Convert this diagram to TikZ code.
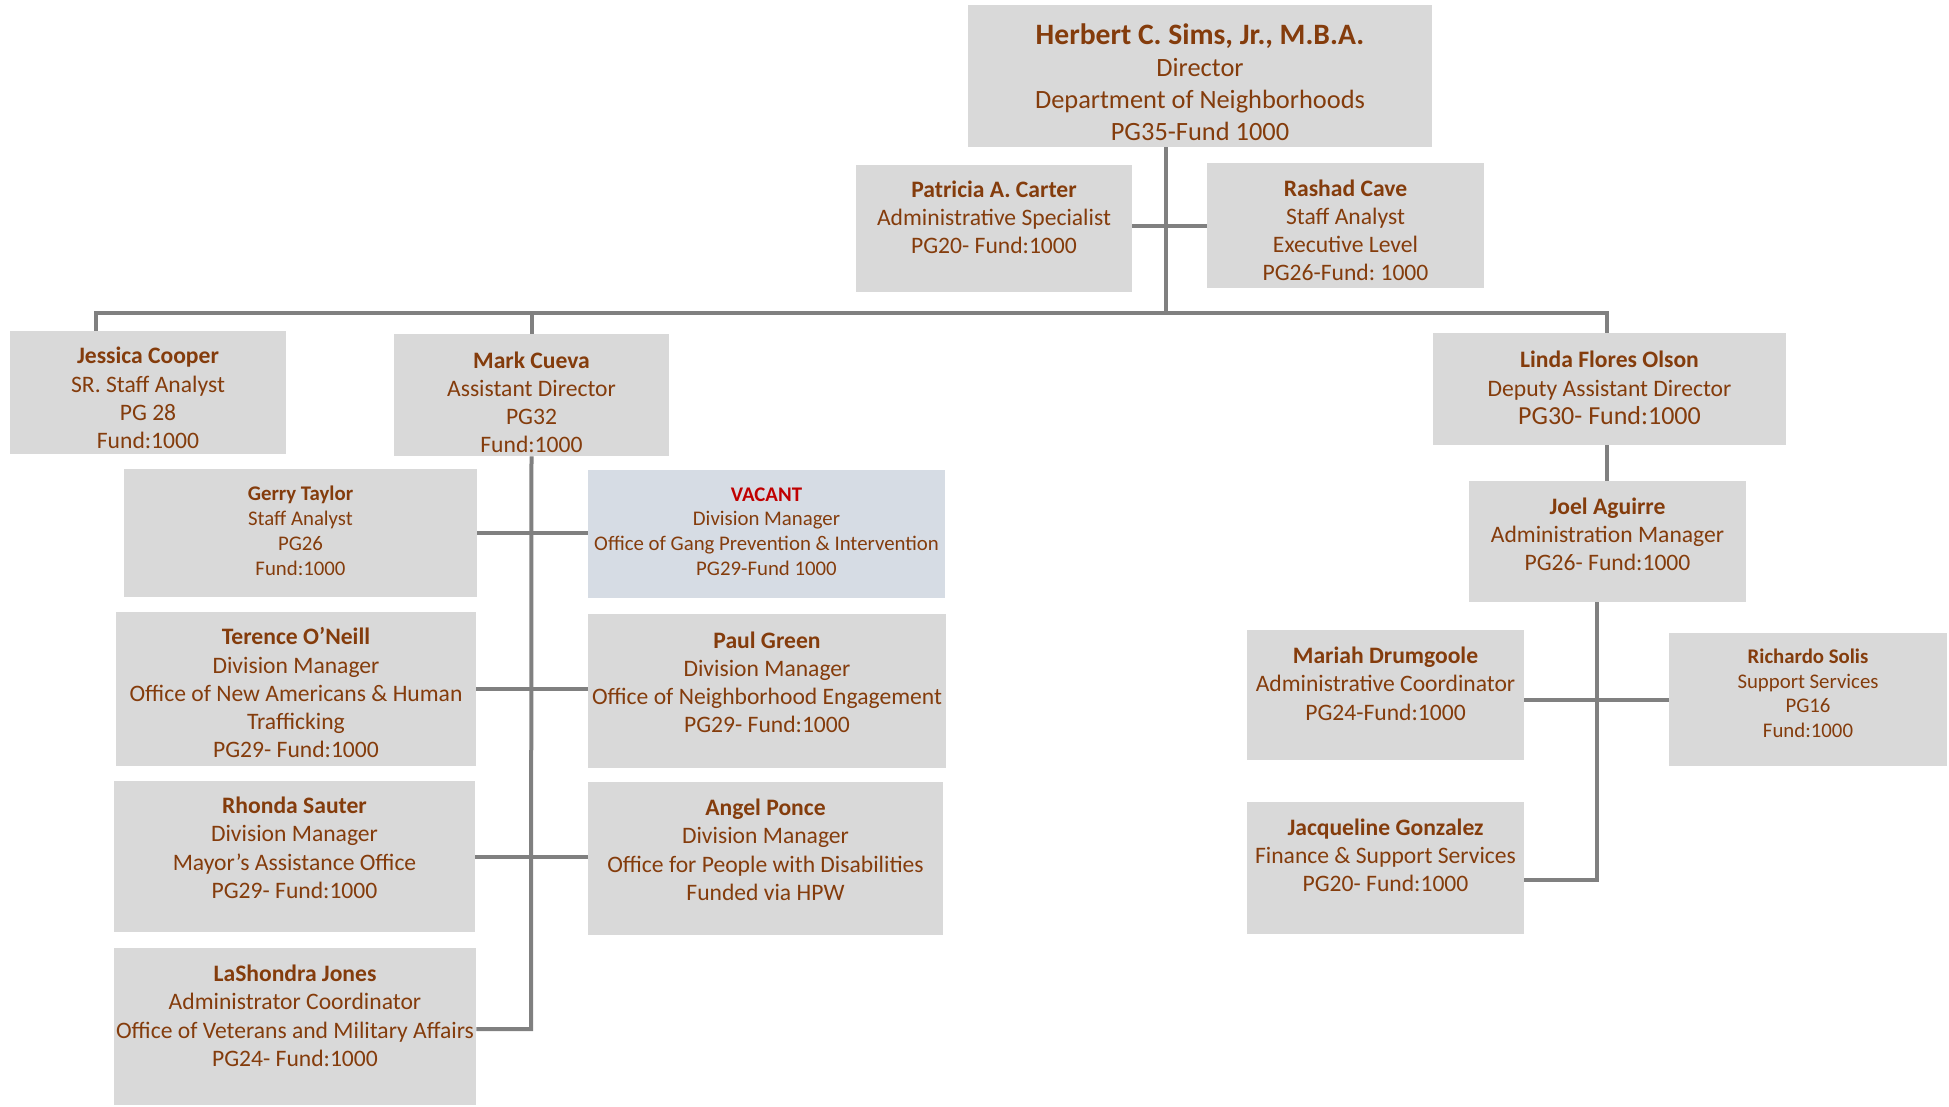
\documentclass[tikz,border=0pt]{standalone}
\usepackage{fontspec}
\setmainfont{Carlito}
\frenchspacing
\usetikzlibrary{positioning, calc}
\definecolor{boxgray}{HTML}{D9D9D9}
\definecolor{rust}{HTML}{843C0C}
\definecolor{linegray}{HTML}{808080}
\definecolor{paleblue}{HTML}{D6DCE4}
\definecolor{vacred}{HTML}{C00000}

\begin{document}
\begin{tikzpicture}[
  x=0.5pt, y=-0.5pt,
  orgbox/.style={fill=boxgray, inner sep=0pt},
  vacbox/.style={orgbox, fill=paleblue},
  dims/.style 2 args={minimum width=#1*0.5pt, minimum height=#2*0.5pt},
  orgtext/.style={text=rust, align=center, inner sep=0pt,
    font=\fontsize{11.8}{14.1}\selectfont},
  smalltext/.style={orgtext, font=\fontsize{10.4}{12.4}\selectfont},
  link/.style={draw=linegray, line width=2pt},
]

% Canvas
\useasboundingbox (0,0) rectangle (1949,1107);

% === Director ===
\node[orgbox, dims={464}{142}] (dir) at (1200,76) {};
\node[orgtext, font=\fontsize{13.2}{16}\selectfont, yshift=-3.1pt] (dir-t) at (dir)
  {{\fontsize{14.8}{16}\selectfont\bfseries Herbert C. Sims, Jr., M.B.A.}\\Director\\
   Department of Neighborhoods\\PG35-Fund 1000};

% === Director's staff ===
\node[orgbox, dims={276}{127}] (carter) at (994,228.5) {};
\node[orgtext, yshift=5.6pt] (carter-t) at (carter)
  {\textbf{Patricia A. Carter}\\Administrative Specialist\\PG20- Fund:1000};
\node[orgbox, dims={277}{125}] (cave) at (1345.5,225.5) {};
\node[orgtext, yshift=-2.5pt] (cave-t) at (cave)
  {\textbf{Rashad Cave}\\Staff Analyst\\Executive Level\\PG26-Fund: 1000};

% === Second row ===
\node[orgbox, dims={276}{123}] (cooper) at (148,392.5) {};
\node[orgtext, yshift=-2.8pt] (cooper-t) at (cooper)
  {\textbf{Jessica Cooper}\\SR. Staff Analyst\\PG 28\\Fund:1000};
\node[orgbox, dims={275}{122}] (cueva) at (531.5,395) {};
\node[orgtext, yshift=-3.7pt] (cueva-t) at (cueva)
  {\textbf{Mark Cueva}\\Assistant Director\\PG32\\Fund:1000};
\node[orgbox, dims={353}{112}] (olson) at (1609.5,389) {};
\node[orgtext, yshift=0.5pt] (olson-t) at (olson)
  {\textbf{Linda Flores Olson}\\Deputy Assistant Director\\
   {\fontsize{13}{15}\selectfont PG30- Fund:1000}};

% === Under Mark Cueva ===
\node[orgbox, dims={353}{128}] (taylor) at (300.5,533) {};
\node[smalltext, yshift=1.2pt] (taylor-t) at (taylor)
  {\textbf{Gerry Taylor}\\Staff Analyst\\PG26\\Fund:1000};
\node[vacbox, dims={357}{128}] (vacant) at (766.5,534) {};
\node[smalltext, yshift=1.2pt] (vacant-t) at (vacant)
  {\textcolor{vacred}{\textbf{VACANT}}\\Division Manager\\
   Office of Gang Prevention \& Intervention\\PG29-Fund 1000};
\node[orgbox, dims={360}{154}] (oneill) at (296,689) {};
\node[orgtext, yshift=-1.9pt] (oneill-t) at (oneill)
  {\textbf{Terence O’Neill}\\Division Manager\\Office of New Americans \& Human\\
   Trafficking\\PG29- Fund:1000};
\node[orgbox, dims={358}{154}] (green) at (767,691) {};
\node[orgtext, yshift=4.3pt] (green-t) at (green)
  {\textbf{Paul Green}\\Division Manager\\Office of Neighborhood Engagement\\
   PG29- Fund:1000};
\node[orgbox, dims={361}{151}] (sauter) at (294.5,856.5) {};
\node[orgtext, yshift=4.3pt] (sauter-t) at (sauter)
  {\textbf{Rhonda Sauter}\\Division Manager\\Mayor’s Assistance Office\\
   PG29- Fund:1000};
\node[orgbox, dims={355}{153}] (ponce) at (765.5,858.5) {};
\node[orgtext, yshift=4.3pt] (ponce-t) at (ponce)
  {\textbf{Angel Ponce}\\Division Manager\\Office for People with Disabilities\\
   Funded via HPW};
\node[orgbox, dims={362}{157}] (jones) at (295,1026.5) {};
\node[orgtext, yshift=5.3pt] (jones-t) at (jones)
  {\textbf{LaShondra Jones}\\Administrator Coordinator\\
   Office of Veterans and Military Affairs\\PG24- Fund:1000};

% === Under Linda Flores Olson ===
\node[orgbox, dims={277}{121}] (aguirre) at (1607.5,541.5) {};
\node[orgtext, yshift=3.7pt] (aguirre-t) at (aguirre)
  {\textbf{Joel Aguirre}\\Administration Manager\\PG26- Fund:1000};
\node[orgbox, dims={277}{130}] (drumgoole) at (1385.5,695) {};
\node[orgtext, yshift=5.6pt] (drumgoole-t) at (drumgoole)
  {\textbf{Mariah Drumgoole}\\Administrative Coordinator\\PG24-Fund:1000};
\node[orgbox, dims={278}{133}] (solis) at (1808,699.5) {};
\node[smalltext, yshift=3.1pt] (solis-t) at (solis)
  {\textbf{Richardo Solis}\\Support Services\\PG16\\Fund:1000};
\node[orgbox, dims={277}{132}] (gonzalez) at (1385.5,868) {};
\node[orgtext, yshift=6.2pt] (gonzalez-t) at (gonzalez)
  {\textbf{Jacqueline Gonzalez}\\Finance \& Support Services\\PG20- Fund:1000};

% === Connectors ===
\coordinate (trunk) at (1166,313);
\coordinate (staff) at (1166,226);
\coordinate (busL) at (96,313);
\coordinate (busR) at (1607,313);
\coordinate (spineA) at (531,1029);
\coordinate (spineB) at (1597,880);
\coordinate (supp) at (1597,700);

\draw[link] (dir.south -| trunk) -- (trunk);
\draw[link] (carter.east |- staff) -- (cave.west |- staff);
\draw[link] (busL |- cooper.north) -- (busL) -- (busR) -- (busR |- olson.north);
\draw[link] (cueva.north) -- (cueva.north |- busL);

% Mark Cueva's spine
\draw[link] (cueva.south) -- (spineA) -- (jones.east |- spineA);
\draw[link] (taylor.east) -- (vacant.west |- taylor.east);
\draw[link] (oneill.east) -- (green.west |- oneill.east);
\draw[link] (sauter.east) -- (ponce.west |- sauter.east);

% Linda Flores Olson's branch
\draw[link] (olson.south -| busR) -- (aguirre.north -| busR);
\draw[link] (aguirre.south -| spineB) -- (spineB) -- (gonzalez.east |- spineB);
\draw[link] (drumgoole.east |- supp) -- (solis.west |- supp);

\end{tikzpicture}
\end{document}
